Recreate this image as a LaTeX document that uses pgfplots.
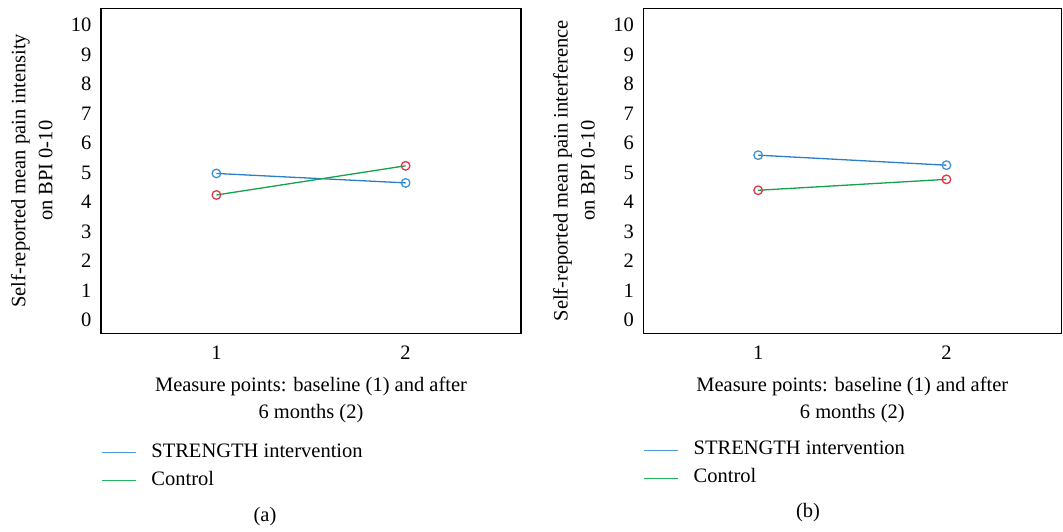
\documentclass[border=0pt]{standalone}
\usepackage{pgfplots}
\pgfplotsset{compat=1.18}
\usepackage{fontspec}
\setmainfont{Liberation Serif}
\definecolor{sblue}{HTML}{2A7FC6}
\definecolor{mblue}{HTML}{3D93D8}
\definecolor{cgreen}{HTML}{14A24A}
\definecolor{lblue}{HTML}{4A9BD8}
\definecolor{lgreen}{HTML}{22B25A}
\definecolor{mred}{HTML}{E8334A}
\newcommand{\f}{\fontsize{20.5}{27}\selectfont}
\pgfplotstableread{
x strength control
1 4.97 4.24
2 4.65 5.23
}\dataA
\pgfplotstableread{
x strength control
1 5.59 4.40
2 5.25 4.77
}\dataB
\pgfplotsset{
  panel/.style={
    scale only axis, width=420pt, height=325pt,
    xmin=0.39, xmax=2.61, ymin=-0.45, ymax=10.57,
    xtick={1,2}, ytick={0,1,...,10},
    major tick length=0pt,
    axis line style={black, line width=1.2pt},
    /pgf/number format/assume math mode=true,
    tick label style={font=\f},
    yticklabel style={xshift=-6pt},
    xticklabel style={yshift=-9pt},
    ylabel style={at={(axis description cs:0,0.5)}, anchor=south, xshift=0pt, yshift=45pt, align=center, font=\f},
    xlabel style={at={(axis description cs:0.5,0)}, anchor=north, yshift=-40pt, align=center, font=\f},
    legend style={at={(axis description cs:0,-0.337)}, anchor=north west, draw=none, fill=none, font=\f,
      inner sep=0pt, row sep=9pt, column sep=15pt, nodes={inner sep=0pt, text height=14pt, text depth=5pt}, legend cell align=left},
    legend image code/.code={\draw[#1] (0pt,0pt) -- (34pt,0pt);},
    clip=false,
  }
}
\begin{document}
\begin{tikzpicture}[x=1pt,y=1pt]
\useasboundingbox (0,0) rectangle (1063,531);
\begin{axis}[panel, at={(101pt,197.7pt)}, anchor=south west,
  ylabel={Self-reported mean pain intensity\\on BPI 0-10},
  xlabel={Measure points: baseline (1) and after\\6 months (2)}]
\addlegendimage{lblue, line width=1.2pt}
\addlegendentry{STRENGTH intervention}
\addlegendimage{lgreen, line width=1.2pt}
\addlegendentry{Control}
\addplot[sblue, line width=1.3pt, mark=o, mark size=4.3pt, mark options={mblue, line width=1.3pt}, forget plot] table[x=x,y=strength]{\dataA};
\addplot[cgreen, line width=1.3pt, mark=o, mark size=4.3pt, mark options={mred, line width=1.3pt}, forget plot] table[x=x,y=control]{\dataA};
\end{axis}
\begin{axis}[panel, at={(643.3pt,197.7pt)}, anchor=south west, width=418pt,
  legend style={at={(axis description cs:0,-0.33)}},
  ylabel={Self-reported mean pain interference\\on BPI 0-10},
  xlabel={Measure points: baseline (1) and after\\6 months (2)}]
\addlegendimage{lblue, line width=1.2pt}
\addlegendentry{STRENGTH intervention}
\addlegendimage{lgreen, line width=1.2pt}
\addlegendentry{Control}
\addplot[sblue, line width=1.3pt, mark=o, mark size=4.3pt, mark options={mblue, line width=1.3pt}, forget plot] table[x=x,y=strength]{\dataB};
\addplot[cgreen, line width=1.3pt, mark=o, mark size=4.3pt, mark options={mred, line width=1.3pt}, forget plot] table[x=x,y=control]{\dataB};
\end{axis}
\node[font=\f] at (265,14) {(a)};
\node[font=\f] at (808,18) {(b)};
\end{tikzpicture}
\end{document}
